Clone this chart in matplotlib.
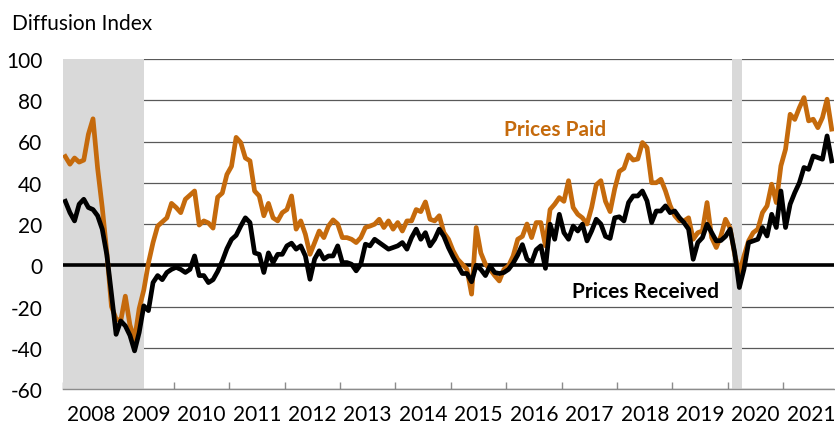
import matplotlib
matplotlib.use("Agg")
import matplotlib.pyplot as plt
import numpy as np

plt.rcParams['font.family'] = ['Lato', 'DejaVu Sans']

# ---- data (monthly, Jan 2008 - Nov 2021) ----
start_year = 2008
prices_paid = [
    52.7, 49, 52, 50, 51, 63.5, 71, 47, 28, 6, -20, -26,            # 2008
    -27, -15, -29, -36, -21, -12, 1, 11, 19, 21, 23, 30,             # 2009
    28, 25.5, 32, 34, 36, 19.5, 21.5, 20.5, 18, 33, 35, 44,          # 2010
    48, 62, 59.5, 52, 50.6, 36, 33.6, 24, 30, 23, 21.5, 25.5,        # 2011
    27, 33.6, 17.5, 21.5, 15, 5.3, 11, 16.6, 13.4, 19, 22, 20,       # 2012
    13.4, 13.4, 12.6, 11, 13.4, 18.3, 19, 19.9, 22.3, 18.3, 21.5, 17.5,  # 2013
    20.7, 16.6, 21.5, 21.5, 27, 26, 30.7, 22.3, 21.5, 24, 15.8, 12.6,    # 2014
    7, 2.9, 0.5, -2, -14, 18.3, 6, 0.5, -2, -5, -7.6, -2,            # 2015
    -0.3, 4.5, 12.6, 14, 20, 13.4, 20.7, 20.7, 9.4, 27, 29.6, 32.8,  # 2016
    31, 41, 28, 24.7, 23, 20, 28, 39, 41, 31, 26, 37,                # 2017
    45.5, 47, 53.5, 51, 51.5, 59.5, 57, 40, 40, 41.7, 36, 29,        # 2018
    24, 21.5, 21.5, 23, 12.6, 15.8, 16.6, 30.4, 13.4, 8.6, 14.2, 22.3,   # 2019
    18, 5, -3.5, 4.5, 11.8, 15.8, 17.5, 25.5, 28.8, 39.3, 30.4, 48.2,    # 2020
    56.2, 73.2, 70.7, 76.4, 81.3, 70, 70.8, 66.7, 71.6, 80.5, 66,        # 2021
]
prices_received = [
    31, 25.5, 21.5, 29.6, 32, 28, 27, 24, 17.5, 5, -14, -33.5,       # 2008
    -27, -29.4, -34, -41.5, -32.6, -19.7, -22, -8.4, -5, -7, -3.5, -2,   # 2009
    -1, -2, -3.5, -2, 4.5, -5, -5, -8.4, -7, -3, 2, 8,               # 2010
    12.5, 14.5, 19, 23, 20.7, 6, 5.3, -3.5, 6, 1.3, 5.3, 5.3,        # 2011
    9.4, 10.7, 7.8, 9.4, 4.5, -6.8, 3, 7, 3, 4.5, 4.5, 9.4,          # 2012
    1.3, 1.3, 0.5, -2.7, 0.5, 10.2, 9.4, 12.6, 11, 9.4, 7.8, 8.6,    # 2013
    9.4, 11, 7.8, 13.4, 17.5, 12.6, 15.8, 9.4, 12.6, 17.5, 14, 8.5,  # 2014
    4, 0, -4, -4, -8, 0, -2, -5, -0.3, -3.5, -4, -3.5,               # 2015
    -2, 1, 5, 10, 3, 1.3, 7.5, 9.4, -1.5, 19.9, 12.6, 24.7,          # 2016
    15.8, 12.6, 19, 16.6, 19.9, 11.8, 16.6, 22.3, 20, 14, 13, 23,    # 2017
    23.5, 21.5, 30.4, 33.6, 33.6, 36, 31.2, 20.7, 26.3, 26.3, 28.8, 25.5,  # 2018
    26.3, 23.1, 20.7, 17.5, 2.9, 11, 13.4, 19.9, 15.8, 11.8, 12, 14,     # 2019
    17.5, 6, -10.8, -1.9, 11, 11.8, 12.6, 18.3, 14.2, 24.7, 18.3, 36,    # 2020
    18.3, 29.6, 35.2, 40, 47.4, 46.5, 53, 52.2, 51.4, 62.7, 50.6,        # 2021
]
year_labels = [str(y) for y in range(2008, 2022)]
y_ticks = [-60, -40, -20, 0, 20, 40, 60, 80, 100]
recessions = [(2007 + 11 / 12, 2009 + 5.5 / 12), (2020 + 1 / 12, 2020 + 3 / 12)]

n = len(prices_paid)
dates = start_year + (np.arange(n) + 0.5) / 12.0

ORANGE = '#C56A0C'
GRID = '#595959'
AXIS = '#8C8C8C'

fig = plt.figure(figsize=(8.35, 4.31), dpi=100)
ax = fig.add_axes([63 / 835, 1 - 390 / 431, 771 / 835, 330 / 431])

ax.set_xlim(start_year, start_year + n / 12.0)
ax.set_ylim(-60, 100)

# gridlines
ax.set_yticks(y_ticks)
ax.set_yticklabels([str(v) for v in y_ticks])
ax.yaxis.grid(True, color=GRID, lw=0.9, zorder=0.5)
ax.set_axisbelow(True)
ax.tick_params(axis='y', length=0, pad=15, labelsize=15, colors='black')

# recession shading
for s, e in recessions:
    ax.axvspan(max(s, start_year), e, color='#D9D9D9', lw=0, zorder=1)

# zero line
ax.axhline(0, color='black', lw=2.6, zorder=2.5)

# series
ax.plot(dates, prices_paid, color=ORANGE, lw=3.4, zorder=3, solid_joinstyle='round')
ax.plot(dates, prices_received, color='black', lw=3.4, zorder=4, solid_joinstyle='round')

# x axis: year labels centered, ticks at year boundaries
years = np.arange(2008, 2022)
ax.set_xticks(years + 0.5)
ax.set_xticklabels(year_labels)
ax.set_xticks(years, minor=True)
ax.tick_params(axis='x', which='major', length=0, pad=11, labelsize=15)
ax.tick_params(axis='x', which='minor', direction='in', length=5, width=1, color=AXIS)

for side in ['left', 'right', 'top']:
    ax.spines[side].set_visible(False)
ax.spines['bottom'].set_color(AXIS)
ax.spines['bottom'].set_linewidth(1)
ax.spines['bottom'].set_zorder(5)

# annotations
ax.text(2016.88, 65.9, 'Prices Paid', color=ORANGE, fontsize=15, fontweight='bold',
        ha='center', va='center', zorder=6)
ax.text(2018.52, -12.3, 'Prices Received', color='black', fontsize=15, fontweight='bold',
        ha='center', va='center', zorder=6)

fig.text(12 / 835, 1 - 30 / 431, 'Diffusion Index', fontsize=15, ha='left', va='baseline')

fig.savefig('out.png', dpi=100)
